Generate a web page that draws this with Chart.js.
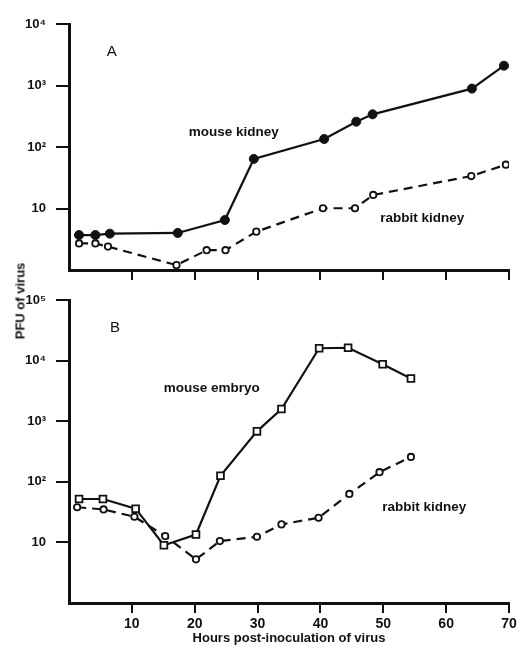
<!DOCTYPE html>
<html><head><meta charset="utf-8">
<script src="https://cdn.jsdelivr.net/npm/chart.js@4.4.1/dist/chart.umd.min.js"></script>
<style>
html,body{margin:0;padding:0;background:#fff;}
#wrap{position:relative;width:521px;height:654px;overflow:hidden;}
#ca{position:absolute;left:0;top:0;}
#cb{position:absolute;left:0;top:290px;}
#ylab{position:absolute;left:20px;top:301px;transform:translate(-50%,-50%) rotate(-90deg);font:bold 13px "Liberation Sans",Arial,sans-serif;white-space:nowrap;color:#111;}
</style></head>
<body>
<div id="wrap">
<canvas id="ca" width="521" height="290"></canvas>
<canvas id="cb" width="521" height="364"></canvas>
<div id="ylab">PFU of virus</div>
</div>
<script>
// Panel A
const hoursA_mouseKidney = [1.6, 4.2, 6.5, 17.3, 24.8, 29.4, 40.6, 45.7, 48.3, 64.1, 69.2];
const pfuA_mouseKidney   = [3.7, 3.7, 3.9, 4.0, 6.5, 64, 135, 258, 340, 890, 2100];
const hoursA_rabbitKidney = [1.6, 4.2, 6.2, 17.1, 21.9, 24.9, 29.8, 40.4, 45.5, 48.4, 64.0, 69.5];
const pfuA_rabbitKidney   = [2.7, 2.7, 2.4, 1.2, 2.1, 2.1, 4.2, 10.1, 10.1, 16.6, 33.7, 51.5];
// Panel B
const hoursB_mouseEmbryo = [1.6, 5.4, 10.6, 15.1, 20.2, 24.1, 29.9, 33.8, 39.8, 44.4, 49.9, 54.4];
const pfuB_mouseEmbryo   = [52, 52, 36, 9.0, 13.5, 126, 680, 1590, 16000, 16300, 8700, 5070];
const hoursB_rabbitKidney = [1.3, 5.5, 10.4, 15.3, 20.2, 24.0, 29.9, 33.8, 39.7, 44.6, 49.4, 54.4];
const pfuB_rabbitKidney   = [38, 35, 26.5, 12.7, 5.25, 10.5, 12.4, 19.8, 25.5, 63, 144, 257];
// Axes
const xTicks = [10, 20, 30, 40, 50, 60, 70];
const yTicksA = [10, 100, 1000, 10000];
const yTicksB = [10, 100, 1000, 10000, 100000];
const yTickLabels = {10: '10', 100: '10\u00B2', 1000: '10\u00B3', 10000: '10\u2074', 100000: '10\u2075'};
const xTitle = 'Hours post-inoculation of virus';
// Annotations (data coordinates)
const notesA = [
  {text: 'A', x: 6.8, y: 3500, font: '15px "Liberation Sans", Arial'},
  {text: 'mouse kidney', x: 26.2, y: 175, font: 'bold 13.5px "Liberation Sans", Arial'},
  {text: 'rabbit kidney', x: 56.2, y: 7.0, font: 'bold 13.5px "Liberation Sans", Arial'}
];
const notesB = [
  {text: 'B', x: 7.3, y: 34600, font: '15px "Liberation Sans", Arial'},
  {text: 'mouse embryo', x: 22.7, y: 3550, font: 'bold 13.5px "Liberation Sans", Arial'},
  {text: 'rabbit kidney', x: 56.5, y: 37.7, font: 'bold 13.5px "Liberation Sans", Arial'}
];

const INK = '#111';
const notesPlugin = {
  id: 'notes',
  afterDraw(chart, args, opts) {
    const ctx = chart.ctx, xs = chart.scales.x, ys = chart.scales.y;
    ctx.save();
    ctx.fillStyle = INK; ctx.textAlign = 'center'; ctx.textBaseline = 'middle';
    for (const n of opts.items || []) {
      ctx.font = n.font;
      ctx.fillText(n.text, xs.getPixelForValue(n.x), ys.getPixelForValue(n.y));
    }
    ctx.restore();
  }
};

function pts(xs, ys) { return xs.map((x, i) => ({x: x, y: ys[i]})); }

function makeChart(id, datasets, yMax, yTicks, notes, showXLabels, xAxisHeight, padTop) {
  return new Chart(document.getElementById(id), {
    type: 'line',
    data: {datasets: datasets},
    plugins: [notesPlugin],
    options: {
      responsive: false, animation: false, devicePixelRatio: 1,
      layout: {padding: {left: 0, right: 12, top: padTop, bottom: 0}},
      plugins: {legend: {display: false}, tooltip: {enabled: false}, notes: {items: notes}},
      scales: {
        x: {
          type: 'linear', min: 0, max: 70,
          afterBuildTicks: ax => { ax.ticks = [0].concat(xTicks).map(v => ({value: v})); },
          afterFit: ax => { ax.height = xAxisHeight; },
          ticks: {
            display: true, padding: 3, color: INK,
            font: {family: '"Liberation Sans", Arial', size: 14, weight: 'bold'},
            callback: v => (showXLabels && v !== 0) ? String(v) : ''
          },
          grid: {drawOnChartArea: false, drawTicks: true, tickLength: 10, lineWidth: 2,
                 color: c => (c.tick && c.tick.value === 0) ? 'rgba(0,0,0,0)' : INK},
          border: {display: true, color: INK, width: 3},
          title: {display: showXLabels, text: xTitle, color: INK, padding: {top: 0, bottom: 8},
                  font: {family: '"Liberation Sans", Arial', size: 13, weight: 'bold'}}
        },
        y: {
          type: 'logarithmic', min: 1, max: yMax,
          afterBuildTicks: ax => { ax.ticks = yTicks.map(v => ({value: v})); },
          afterFit: ax => { ax.width = 69; ax.paddingTop = 0; ax.paddingBottom = 0; },
          ticks: {
            padding: 10, color: INK,
            font: {family: '"Liberation Sans", Arial', size: 13, weight: 'bold'},
            callback: v => yTickLabels[v] || ''
          },
          grid: {drawOnChartArea: false, drawTicks: true, tickLength: 13, lineWidth: 2, color: INK},
          border: {display: true, color: INK, width: 3}
        }
      }
    }
  });
}

const solidFilled = (data) => ({
  data: data, borderColor: INK, borderWidth: 2.2, tension: 0,
  pointStyle: 'circle', pointRadius: 4.5, pointBackgroundColor: INK, pointBorderColor: INK, pointBorderWidth: 1
});
const dashedOpen = (data) => ({
  data: data, borderColor: INK, borderWidth: 2.2, borderDash: [9, 6], tension: 0,
  pointStyle: 'circle', pointRadius: 3.2, pointBackgroundColor: '#fff', pointBorderColor: INK, pointBorderWidth: 1.8
});
const solidSquare = (data) => ({
  data: data, borderColor: INK, borderWidth: 2.2, tension: 0,
  pointStyle: 'rect', pointRadius: 4.8, pointBackgroundColor: '#fff', pointBorderColor: INK, pointBorderWidth: 1.8
});

makeChart('ca', [
  dashedOpen(pts(hoursA_rabbitKidney, pfuA_rabbitKidney)),
  solidFilled(pts(hoursA_mouseKidney, pfuA_mouseKidney))
], 10000, yTicksA, notesA, false, 20, 24);

makeChart('cb', [
  dashedOpen(pts(hoursB_rabbitKidney, pfuB_rabbitKidney)),
  solidSquare(pts(hoursB_mouseEmbryo, pfuB_mouseEmbryo))
], 100000, yTicksB, notesB, true, 51, 10);
</script>
</body></html>
